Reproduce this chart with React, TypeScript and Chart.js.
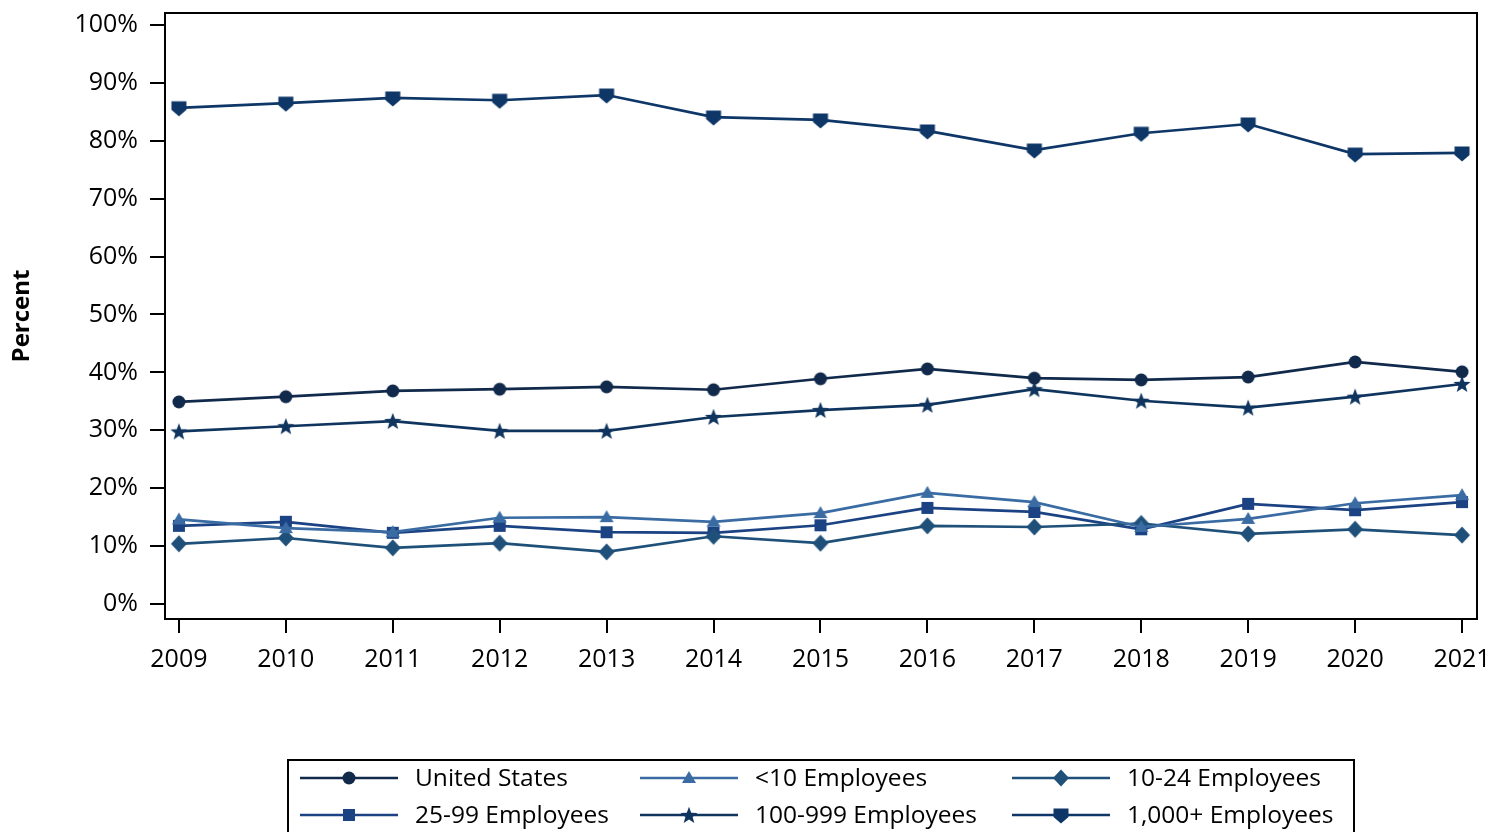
import React, { useEffect, useRef } from 'react';
import { Chart, registerables } from 'chart.js';

Chart.register(...registerables);

const years = [2009, 2010, 2011, 2012, 2013, 2014, 2015, 2016, 2017, 2018, 2019, 2020, 2021];
const unitedStates = [34.9, 35.8, 36.8, 37.1, 37.5, 37.0, 38.9, 40.6, 39.0, 38.7, 39.2, 41.8, 40.1];
const under10 = [14.6, 13.1, 12.4, 14.9, 15.0, 14.2, 15.7, 19.2, 17.6, 13.3, 14.7, 17.4, 18.8];
const emp10to24 = [10.4, 11.4, 9.7, 10.5, 9.0, 11.7, 10.5, 13.5, 13.3, 13.9, 12.1, 12.9, 11.9];
const emp25to99 = [13.5, 14.2, 12.3, 13.5, 12.4, 12.3, 13.6, 16.6, 15.9, 12.9, 17.3, 16.2, 17.6];
const emp100to999 = [29.8, 30.7, 31.6, 29.9, 29.9, 32.3, 33.5, 34.4, 37.1, 35.1, 33.9, 35.8, 38.0];
const emp1000plus = [85.7, 86.5, 87.4, 87.0, 87.9, 84.1, 83.6, 81.7, 78.4, 81.3, 82.9, 77.7, 77.9];
const yTickValues = [0, 10, 20, 30, 40, 50, 60, 70, 80, 90, 100];

const seriesLabels = ['United States', '<10 Employees', '10-24 Employees', '25-99 Employees', '100-999 Employees', '1,000+ Employees'];
const seriesColors = ['#11294a', '#3a6ca3', '#1f5079', '#1b4282', '#0f355f', '#0e3768'];
const seriesShapes = ['circle', 'triangle', 'diamond', 'square', 'star', 'shield'];
const seriesData = [unitedStates, under10, emp10to24, emp25to99, emp100to999, emp1000plus];

const FONT = '"Open Sans", "Liberation Sans", sans-serif';

function drawMarker(ctx: CanvasRenderingContext2D, shape: string, x: number, y: number, color: string) {
  ctx.save();
  ctx.fillStyle = color;
  ctx.beginPath();
  if (shape === 'circle') {
    ctx.arc(x, y, 6.5, 0, Math.PI * 2);
  } else if (shape === 'triangle') {
    ctx.moveTo(x, y - 7);
    ctx.lineTo(x + 7, y + 5);
    ctx.lineTo(x - 7, y + 5);
  } else if (shape === 'diamond') {
    ctx.moveTo(x, y - 8.5);
    ctx.lineTo(x + 8, y);
    ctx.lineTo(x, y + 8.5);
    ctx.lineTo(x - 8, y);
  } else if (shape === 'square') {
    ctx.rect(x - 6, y - 6, 12, 12);
  } else if (shape === 'star') {
    const outer = 9;
    const inner = 3.8;
    for (let i = 0; i < 10; i++) {
      const r = i % 2 === 0 ? outer : inner;
      const a = -Math.PI / 2 + (i * Math.PI) / 5;
      const px = x + r * Math.cos(a);
      const py = y + r * Math.sin(a) + 0.8;
      if (i === 0) ctx.moveTo(px, py);
      else ctx.lineTo(px, py);
    }
  } else if (shape === 'shield') {
    ctx.moveTo(x - 7.5, y - 6.6);
    ctx.lineTo(x + 7.5, y - 6.6);
    ctx.lineTo(x + 7.5, y + 2);
    ctx.lineTo(x, y + 8.6);
    ctx.lineTo(x - 7.5, y + 2);
  }
  ctx.closePath();
  ctx.fill();
  ctx.restore();
}

function makeMarkerImage(shape: string, color: string): HTMLCanvasElement {
  const c = document.createElement('canvas');
  c.width = 24;
  c.height = 24;
  const ctx = c.getContext('2d')!;
  drawMarker(ctx, shape, 12, 12, color);
  return c;
}

const framePlugin = {
  id: 'frameAndLegend',
  afterDraw(chart: any) {
    const { ctx, chartArea } = chart;
    ctx.save();
    // plot frame
    ctx.strokeStyle = '#000';
    ctx.lineWidth = 2;
    ctx.strokeRect(chartArea.left, chartArea.top, chartArea.right - chartArea.left, chartArea.bottom - chartArea.top);

    // y title
    ctx.save();
    ctx.translate(22, (chartArea.top + chartArea.bottom) / 2);
    ctx.rotate(-Math.PI / 2);
    ctx.font = 'bold 24px ' + FONT;
    ctx.fillStyle = '#000';
    ctx.textAlign = 'center';
    ctx.textBaseline = 'middle';
    ctx.fillText('Percent', 0, 0);
    ctx.restore();

    // legend box
    ctx.strokeStyle = '#000';
    ctx.lineWidth = 2;
    ctx.strokeRect(288, 760, 1066, 100);
    const colX = [300, 640, 1012];
    const rowY = [778, 815];
    ctx.font = '24.5px ' + FONT;
    ctx.textBaseline = 'middle';
    ctx.textAlign = 'left';
    for (let i = 0; i < seriesLabels.length; i++) {
      const col = i % 3;
      const row = Math.floor(i / 3);
      const x0 = colX[col];
      const y0 = rowY[row];
      ctx.strokeStyle = seriesColors[i];
      ctx.lineWidth = 2.7;
      ctx.beginPath();
      ctx.moveTo(x0, y0);
      ctx.lineTo(x0 + 98, y0);
      ctx.stroke();
      drawMarker(ctx, seriesShapes[i], x0 + 49, y0, seriesColors[i]);
      ctx.fillStyle = '#000';
      ctx.fillText(seriesLabels[i], x0 + 115, y0 + 1);
    }
    ctx.restore();
  },
};

function zeroPadding(scale: any) {
  scale.paddingTop = 0;
  scale.paddingBottom = 0;
  scale.paddingLeft = 0;
  scale.paddingRight = 0;
}

export default function App() {
  const canvasRef = useRef<HTMLCanvasElement | null>(null);

  useEffect(() => {
    document.body.style.margin = '0';
    const canvas = canvasRef.current;
    if (!canvas) return;

    const datasets = seriesData.map((values, i) => ({
      label: seriesLabels[i],
      data: values.map((v, j) => ({ x: years[j], y: v })),
      borderColor: seriesColors[i],
      backgroundColor: seriesColors[i],
      borderWidth: 2.7,
      pointStyle: makeMarkerImage(seriesShapes[i], seriesColors[i]) as any,
      pointRadius: 7,
      pointHoverRadius: 7,
      tension: 0,
      clip: false as any,
    }));

    const chart = new Chart(canvas, {
      type: 'line',
      data: { datasets },
      options: {
        animation: false,
        responsive: false,
        devicePixelRatio: 1,
        layout: { padding: { top: 13, right: 14, left: 0, bottom: 0 } },
        plugins: {
          legend: { display: false },
          tooltip: { enabled: false },
        },
        scales: {
          x: {
            type: 'linear',
            min: 2008.87,
            max: 2021.14,
            afterBuildTicks: (scale: any) => {
              scale.ticks = years.map((v) => ({ value: v }));
            },
            afterFit: (scale: any) => {
              scale.height = 213;
              zeroPadding(scale);
            },
            ticks: {
              callback: (v: any) => String(v),
              font: { family: FONT, size: 25 },
              color: '#000',
              padding: 12,
              maxRotation: 0,
              autoSkip: false,
            },
            grid: {
              display: true,
              drawOnChartArea: false,
              drawTicks: true,
              tickLength: 14,
              color: '#000',
              lineWidth: 2,
            },
            border: { display: false },
          },
          y: {
            type: 'linear',
            min: -2.59,
            max: 102.07,
            afterBuildTicks: (scale: any) => {
              scale.ticks = yTickValues.map((v) => ({ value: v }));
            },
            afterFit: (scale: any) => {
              scale.width = 165;
              zeroPadding(scale);
            },
            ticks: {
              callback: (v: any) => v + '%',
              font: { family: FONT, size: 25 },
              color: '#000',
              padding: 12,
              autoSkip: false,
            },
            grid: {
              display: true,
              drawOnChartArea: false,
              drawTicks: true,
              tickLength: 15,
              color: '#000',
              lineWidth: 2,
            },
            border: { display: false },
          },
        },
      },
      plugins: [framePlugin],
    });

    return () => {
      chart.destroy();
    };
  }, []);

  return (
    <div style={{ width: 1491, height: 832, overflow: 'hidden', background: '#fff' }}>
      <canvas ref={canvasRef} width={1491} height={832} style={{ display: 'block' }} />
    </div>
  );
}
